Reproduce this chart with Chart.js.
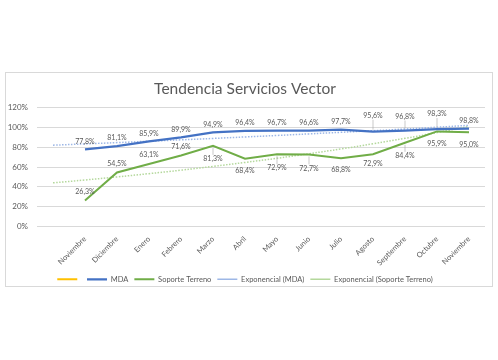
<!DOCTYPE html>
<html>
<head>
<meta charset="utf-8">
<script src="https://cdn.jsdelivr.net/npm/chart.js@4"></script>
<style>
  html, body { margin: 0; padding: 0; background: #fff; }
  #wrap { position: relative; width: 498px; height: 360px; }
</style>
</head>
<body>
<div id="wrap"><canvas id="trendChart" width="498" height="360"></canvas></div>
<script>
// Categories (first slot is empty, as in the original sheet)
const months = ['', 'Noviembre', 'Diciembre', 'Enero', 'Febrero', 'Marzo', 'Abril', 'Mayo',
    'Junio', 'Julio', 'Agosto', 'Septiembre', 'Octubre', 'Noviembre'];

// Series values (%)
const mdaValues = [null, 77.8, 81.1, 85.9, 89.9, 94.9, 96.4, 96.7, 96.6, 97.7, 95.6, 96.8, 98.3, 98.8];
const soporteValues = [null, 26.3, 54.5, 63.1, 71.6, 81.3, 68.4, 72.9, 72.7, 68.8, 72.9, 84.4, 95.9, 95.0];

// Exponential trend lines
const mdaTrend = [82.0, 83.3, 84.6, 86.0, 87.4, 88.8, 90.3, 91.8, 93.4, 95.0, 96.6, 98.3, 100.1, 102.0];
const soporteTrend = [44.0, 46.9, 50.0, 53.3, 56.8, 60.6, 64.6, 68.8, 73.4, 78.2, 83.4, 88.9, 94.7, 100.9];

// Y axis ticks
const yTicks = [0, 20, 40, 60, 80, 100, 120];

// Label offsets (px) above/below each point
const mdaLabelDy = [0, -8, -8, -8, -8, -8, -8, -8, -8, -8, -16, -14, -15, -8];
const soporteLabelDy = [0, -9, -9, -9, -9, 13, 12, 14, 14, 11, 10, 13, 12, 12];

const chartColors = {
    yellow: '#FFC000',
    blue: '#4472C4',
    green: '#70AD47',
    blueTrend: '#9DB7E6',
    greenTrend: '#B4D89C',
    text: '#595959',
    grid: '#D9D9D9'
};

const fmt = v => v.toFixed(1).replace('.', ',') + '%';

// frame around the chart
const framePlugin = {
    id: 'frame',
    beforeDraw(chart) {
        const ctx = chart.ctx;
        ctx.save();
        ctx.strokeStyle = chartColors.grid;
        ctx.lineWidth = 1;
        ctx.strokeRect(5.5, 72.5, 487, 214);
        ctx.restore();
    }
};

// data labels with small leader lines
const labelPlugin = {
    id: 'pointLabels',
    afterDatasetsDraw(chart) {
        const ctx = chart.ctx;
        ctx.save();
        ctx.font = '7px Lato';
        ctx.fillStyle = chartColors.text;
        ctx.textAlign = 'center';
        ctx.textBaseline = 'middle';
        chart.data.datasets.forEach((ds, i) => {
            if (!ds.labelDy) return;
            const meta = chart.getDatasetMeta(i);
            meta.data.forEach((pt, j) => {
                const v = ds.data[j];
                if (v === null) return;
                const dy = ds.labelDy[j];
                const ly = pt.y + dy;
                if (Math.abs(dy) >= 13) {
                    ctx.strokeStyle = '#A6A6A6';
                    ctx.lineWidth = 0.6;
                    ctx.beginPath();
                    const s = dy < 0 ? 1 : -1;
                    ctx.moveTo(pt.x, ly + s * 4);
                    ctx.lineTo(pt.x, pt.y - s * 2);
                    ctx.stroke();
                }
                ctx.fillText(fmt(v), pt.x, ly);
            });
        });
        ctx.restore();
    }
};

new Chart(document.getElementById('trendChart'), {
    type: 'line',
    data: {
        labels: months,
        datasets: [{
            label: '',
            data: months.map(() => null),
            borderColor: chartColors.yellow,
            backgroundColor: chartColors.yellow,
            borderWidth: 2
        }, {
            label: 'MDA',
            data: mdaValues,
            borderColor: chartColors.blue,
            backgroundColor: chartColors.blue,
            borderWidth: 2.25,
            labelDy: mdaLabelDy
        }, {
            label: 'Soporte Terreno',
            data: soporteValues,
            borderColor: chartColors.green,
            backgroundColor: chartColors.green,
            borderWidth: 2,
            labelDy: soporteLabelDy
        }, {
            label: 'Exponencial (MDA)',
            data: mdaTrend,
            borderColor: chartColors.blueTrend,
            backgroundColor: chartColors.blueTrend,
            borderWidth: 1.5,
            borderDash: [1.5, 1.5],
            tension: 0.4
        }, {
            label: 'Exponencial (Soporte Terreno)',
            data: soporteTrend,
            borderColor: chartColors.greenTrend,
            backgroundColor: chartColors.greenTrend,
            borderWidth: 1.5,
            borderDash: [1.5, 1.5],
            tension: 0.4
        }]
    },
    options: {
        responsive: false,
        animation: false,
        layout: { padding: { left: 5, right: 13, top: 76, bottom: 67 } },
        elements: { point: { radius: 0, hoverRadius: 0 }, line: { tension: 0 } },
        plugins: {
            title: {
                display: true,
                text: 'Tendencia Servicios Vector',
                color: chartColors.text,
                font: { family: 'Lato', size: 15.5, weight: 'normal' },
                padding: { top: 3.5, bottom: 9.4 }
            },
            legend: {
                position: 'bottom',
                labels: {
                    usePointStyle: true,
                    pointStyle: 'line',
                    pointStyleWidth: 20,
                    color: chartColors.text,
                    font: { family: 'Lato', size: 7.5 },
                    padding: 6
                }
            },
            tooltip: { enabled: false }
        },
        scales: {
            y: {
                min: 0,
                max: 120,
                afterBuildTicks: s => { s.ticks = yTicks.map(v => ({ value: v })); },
                afterFit: s => { s.width = 32; },
                border: { display: false },
                grid: { color: chartColors.grid, drawTicks: false },
                ticks: {
                    callback: v => v + '%',
                    color: chartColors.text,
                    font: { family: 'Lato', size: 8 },
                    padding: 9
                }
            },
            x: {
                offset: true,
                afterFit: s => { s.height = 43; },
                border: { display: false },
                grid: { display: false },
                ticks: {
                    autoSkip: false,
                    minRotation: 45,
                    maxRotation: 45,
                    color: chartColors.text,
                    font: { family: 'Lato', size: 7.5 },
                    padding: 0
                }
            }
        }
    },
    plugins: [framePlugin, labelPlugin]
});
</script>
</body>
</html>
